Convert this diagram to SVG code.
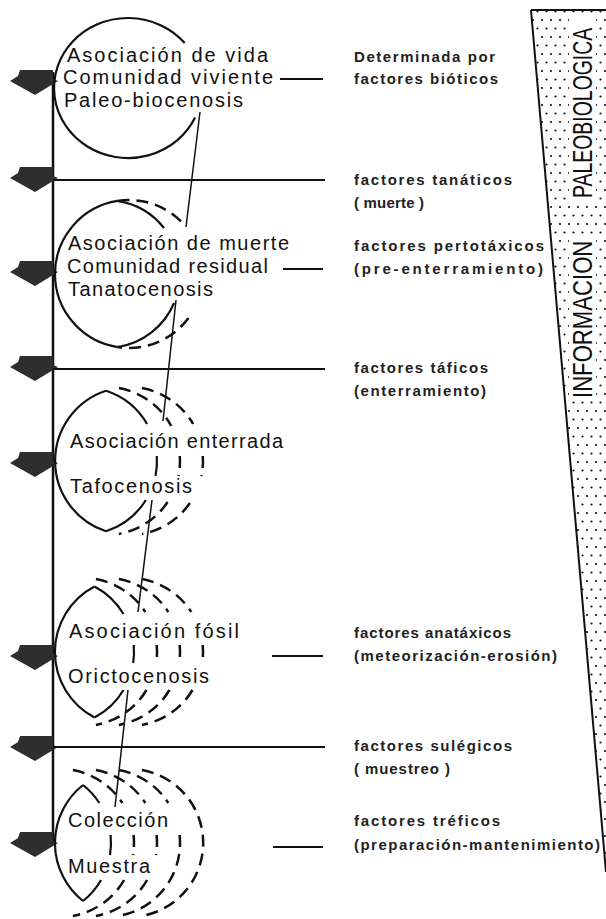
<svg xmlns="http://www.w3.org/2000/svg" width="606" height="919" viewBox="0 0 606 919">
<style>
.solid{fill:none;stroke:#111;stroke-width:2.2}
.dash{fill:none;stroke:#111;stroke-width:2.5;stroke-dasharray:12 7}
.conn{stroke:#111;stroke-width:1.5;fill:none}
.rule{stroke:#111;stroke-width:1.8}
.arrow{fill:#2e2e2e}
.lbl{font-family:"Liberation Sans",Arial,sans-serif;font-size:20px;fill:#111}
.fac{font-family:"Liberation Sans",Arial,sans-serif;font-size:15px;font-weight:bold;fill:#222}
.big{font-family:"Liberation Sans",Arial,sans-serif;font-size:27px;fill:#111}
</style>
<defs>
<pattern id="dots" patternUnits="userSpaceOnUse" width="9" height="17">
<circle cx="2" cy="3" r="1.1" fill="#111"/>
<circle cx="6.5" cy="11.5" r="1.1" fill="#111"/>
</pattern>
<polygon id="arr" points="20,0 53,0 53,9 58,11 35,25 10,11 18,6"/>
</defs>
<rect width="606" height="919" fill="#fff"/>

<g id="panel">
<polygon points="531,10 606,10 606,872" fill="url(#dots)"/>
<rect x="569" y="16" width="27" height="184" fill="#fff"/>
<rect x="569" y="237" width="27" height="164" fill="#fff"/>
<line x1="531" y1="10" x2="606" y2="10" stroke="#111" stroke-width="2"/>
<line x1="531" y1="10" x2="606" y2="872" stroke="#111" stroke-width="2"/>
<text class="big" transform="translate(592,398) rotate(-90) scale(0.82,1)">INFORMACION</text>
<text class="big" transform="translate(592,198) rotate(-90) scale(0.72,1)">PALEOBIOLOGICA</text>
</g>

<g id="axis">
<line x1="53" y1="72" x2="53" y2="845" stroke="#111" stroke-width="2.5"/>
<use href="#arr" class="arrow" y="70"/>
<use href="#arr" class="arrow" y="167"/>
<use href="#arr" class="arrow" y="261"/>
<use href="#arr" class="arrow" y="356"/>
<use href="#arr" class="arrow" y="452"/>
<use href="#arr" class="arrow" y="645"/>
<use href="#arr" class="arrow" y="736"/>
<use href="#arr" class="arrow" y="832"/>
</g>

<g id="rules">
<line class="rule" x1="53" y1="180" x2="325" y2="180"/>
<line class="rule" x1="53" y1="369" x2="325" y2="369"/>
<line class="rule" x1="53" y1="747" x2="325" y2="747"/>
<line class="rule" x1="280" y1="79" x2="323" y2="79"/>
<line class="rule" x1="283" y1="269" x2="323" y2="269"/>
<line class="rule" x1="272" y1="656" x2="323" y2="656"/>
<line class="rule" x1="273" y1="847" x2="323" y2="847"/>
</g>

<g id="connectors">
<line class="conn" x1="200" y1="112" x2="186" y2="227"/>
<line class="conn" x1="176" y1="300" x2="163" y2="421"/>
<line class="conn" x1="152" y1="500" x2="138" y2="612"/>
<line class="conn" x1="128" y1="690" x2="115" y2="807"/>
</g>

<g id="node1">
<path class="solid" d="M195.1,117.6 A74,70 0 1 1 184.7,43"/>
<text class="lbl" x="67" y="62" textLength="201" lengthAdjust="spacing">Asociación de vida</text>
<text class="lbl" x="63" y="84" textLength="210" lengthAdjust="spacing">Comunidad viviente</text>
<text class="lbl" x="64" y="107" textLength="179" lengthAdjust="spacing">Paleo-biocenosis</text>
</g>

<g id="node2">
<path class="solid" d="M117.5,200.9 A74,74 0 0 0 117.5,347.1"/>
<path class="solid" d="M117.5,200.9 A74,74 0 0 1 164,228"/>
<path class="solid" d="M174.1,303 A74,74 0 0 1 117.5,347.1"/>
<path class="dash" d="M117.5,200.9 A74,74 0 0 1 185.3,226"/>
<path class="dash" d="M188.5,318 A74,74 0 0 1 117.5,347.1"/>
<text class="lbl" x="68" y="250" textLength="221" lengthAdjust="spacing">Asociación de muerte</text>
<text class="lbl" x="67" y="273" textLength="201" lengthAdjust="spacing">Comunidad residual</text>
<text class="lbl" x="68" y="296" textLength="145" lengthAdjust="spacing">Tanatocenosis</text>
</g>

<g id="node3">
<path class="solid" d="M106,390.7 A74,74 0 0 0 106,531.3"/>
<path class="solid" d="M106,390.7 A74,74 0 0 1 147.1,424"/>
<path class="solid" d="M156.8,456 A74,74 0 0 1 155.5,476"/>
<path class="solid" d="M145.9,500 A74,74 0 0 1 106,531.3"/>
<path class="dash" d="M118.9,388.1 A74,74 0 0 1 171.2,426"/>
<path class="dash" d="M179.8,456 A74,74 0 0 1 178.5,476"/>
<path class="dash" d="M167.6,502 A74,74 0 0 1 118.9,533.9"/>
<path class="dash" d="M141.9,388.1 A74,74 0 0 1 193.1,424"/>
<path class="dash" d="M202.8,456 A74,74 0 0 1 201.5,476"/>
<path class="dash" d="M189.9,503 A74,74 0 0 1 141.9,533.9"/>
<text class="lbl" x="70" y="448" textLength="213" lengthAdjust="spacing">Asociación enterrada</text>
<text class="lbl" x="70" y="493" textLength="122" lengthAdjust="spacing">Tafocenosis</text>
</g>

<g id="node4">
<path class="solid" d="M94.5,586.5 A74,74 0 0 0 94.5,717.5"/>
<path class="solid" d="M94.5,586.5 A74,74 0 0 1 123.5,614"/>
<path class="solid" d="M133.7,645 A74,74 0 0 1 133.2,663"/>
<path class="solid" d="M123.5,690 A74,74 0 0 1 94.5,717.5"/>
<path class="dash" d="M95.9,579.1 A74,74 0 0 1 145.3,612"/>
<path class="dash" d="M156.7,645 A74,74 0 0 1 156.2,663"/>
<path class="dash" d="M146.5,690 A74,74 0 0 1 95.9,724.9"/>
<path class="dash" d="M118.9,579.1 A74,74 0 0 1 168.3,612"/>
<path class="dash" d="M179.7,645 A74,74 0 0 1 179.2,663"/>
<path class="dash" d="M169.5,690 A74,74 0 0 1 118.9,724.9"/>
<path class="dash" d="M141.9,579.1 A74,74 0 0 1 191.3,612"/>
<path class="dash" d="M202.7,645 A74,74 0 0 1 202.2,663"/>
<path class="dash" d="M192.5,690 A74,74 0 0 1 141.9,724.9"/>
<text class="lbl" x="69" y="638" textLength="170" lengthAdjust="spacing">Asociación fósil</text>
<text class="lbl" x="68" y="683" textLength="141" lengthAdjust="spacing">Orictocenosis</text>
</g>

<g id="node5">
<path class="solid" d="M83,785 A74,74 0 0 0 83,901"/>
<path class="solid" d="M83,785 A74,74 0 0 1 99.3,803"/>
<path class="solid" d="M110.6,835 A74,74 0 0 1 110,855"/>
<path class="solid" d="M101.1,880 A74,74 0 0 1 83,901"/>
<path class="dash" d="M72.9,770.1 A74,74 0 0 1 122.3,803"/>
<path class="dash" d="M133.6,835 A74,74 0 0 1 133,855"/>
<path class="dash" d="M124.1,880 A74,74 0 0 1 72.9,915.9"/>
<path class="dash" d="M95.9,770.1 A74,74 0 0 1 145.3,803"/>
<path class="dash" d="M156.6,835 A74,74 0 0 1 156,855"/>
<path class="dash" d="M147.1,880 A74,74 0 0 1 95.9,915.9"/>
<path class="dash" d="M118.9,770.1 A74,74 0 0 1 168.3,803"/>
<path class="dash" d="M179.6,835 A74,74 0 0 1 118.9,915.9"/>
<path class="dash" d="M141.9,770.1 A74,74 0 0 1 141.9,915.9"/>
<text class="lbl" x="68" y="827" textLength="100" lengthAdjust="spacing">Colección</text>
<text class="lbl" x="68" y="873" textLength="82" lengthAdjust="spacing">Muestra</text>
</g>

<g id="factors">
<text class="fac" x="354" y="62" textLength="141" lengthAdjust="spacing">Determinada por</text>
<text class="fac" x="354" y="84" textLength="144" lengthAdjust="spacing">factores bióticos</text>
<text class="fac" x="354" y="185" textLength="158" lengthAdjust="spacing">factores tanáticos</text>
<text class="fac" x="354" y="208" textLength="70" lengthAdjust="spacing">( muerte )</text>
<text class="fac" x="354" y="251" textLength="190" lengthAdjust="spacing">factores pertotáxicos</text>
<text class="fac" x="354" y="274" textLength="189" lengthAdjust="spacing">(pre-enterramiento)</text>
<text class="fac" x="354" y="373" textLength="134" lengthAdjust="spacing">factores táficos</text>
<text class="fac" x="354" y="396" textLength="132" lengthAdjust="spacing">(enterramiento)</text>
<text class="fac" x="354" y="638" textLength="157" lengthAdjust="spacing">factores anatáxicos</text>
<text class="fac" x="354" y="661" textLength="203" lengthAdjust="spacing">(meteorización-erosión)</text>
<text class="fac" x="354" y="751" textLength="158" lengthAdjust="spacing">factores sulégicos</text>
<text class="fac" x="354" y="774" textLength="96" lengthAdjust="spacing">( muestreo )</text>
<text class="fac" x="354" y="826" textLength="146" lengthAdjust="spacing">factores tréficos</text>
<text class="fac" x="354" y="850" textLength="246" lengthAdjust="spacing">(preparación-mantenimiento)</text>
</g>
</svg>
